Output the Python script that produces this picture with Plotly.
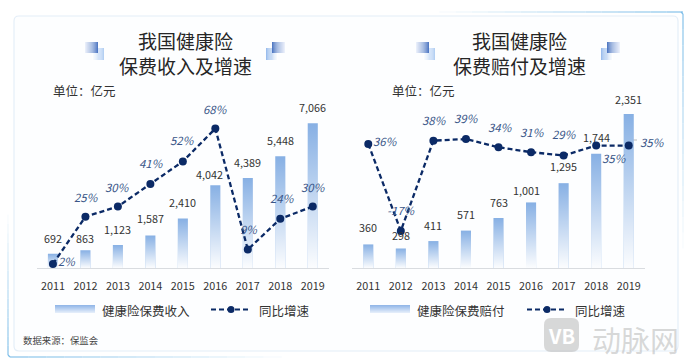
import plotly.graph_objects as go

W, H = 693, 362
FONT = "Noto Sans CJK SC"

years = list(range(2011, 2020))
premium = [692, 863, 1123, 1587, 2410, 4042, 4389, 5448, 7066]
premium_growth = [2, 25, 30, 41, 52, 68, 9, 24, 30]
claims = [360, 298, 411, 571, 763, 1001, 1295, 1744, 2351]
claims_growth = [36, -17, 38, 39, 34, 31, 29, 35, 35]

premium_title = "我国健康险<br>保费收入及增速"
claims_title = "我国健康险<br>保费赔付及增速"
unit_label = "单位\uff1a亿元"
premium_legend = "健康险保费收入"
claims_legend = "健康险保费赔付"
growth_legend = "同比增速"
source_label = "数据来源\uff1a保监会"

# label offsets in px (dx, dy up) from the mark
prem_val_off = [(0, 16), (0, 12), (0, 16), (0, 17), (0, 17), (-6, 11), (0, 16), (0, 16), (0, 16)]
prem_pct_off = [(14, 3), (1, 20), (0, 20), (1, 21), (0, 21), (0, 20), (1, 21), (2, 21), (1, 20)]
clm_val_off = [(0, 17), (0, 13), (0, 16), (0, 17), (0, 16), (-5, 12), (0, 17), (0, 17), (0, 15)]
clm_pct_off = [(17, 3), (1, 21), (1, 21), (1, 21), (2, 20), (1, 20), (1, 21), (18, -12), (24, 4)]

PLOT_TOP, PLOT_BOTTOM = 100, 268
dom = [(H - PLOT_BOTTOM) / H, (H - PLOT_TOP) / H]
BAR_W = 0.31

shapes, anns = [], []


def X(p):
    return p / W


def Y(p):
    return 1 - p / H


def rect(x0, y0, x1, y1, fill, **kw):
    shapes.append(dict(type="rect", xref="paper", yref="paper", x0=X(x0), x1=X(x1), y0=Y(y0), y1=Y(y1),
                       fillcolor=fill, line=dict(width=0), layer=kw.get("layer", "below")))


def mix(a, b, t):
    return "#%02x%02x%02x" % tuple(round(a[i] + (b[i] - a[i]) * t) for i in range(3))


def grad(x0, y0, x1, y1, c0, c1, horizontal=True, n=14):
    for i in range(n):
        t = i / max(n - 1, 1)
        if horizontal:
            rect(x0 + (x1 - x0) * i / n, y0, x0 + (x1 - x0) * (i + 1) / n, y1, mix(c0, c1, t))
        else:
            rect(x0, y0 + (y1 - y0) * i / n, x1, y0 + (y1 - y0) * (i + 1) / n, mix(c0, c1, t))


def text(x, y, s, size, color="#333333", anchor="center", **kw):
    anns.append(dict(xref="paper", yref="paper", x=X(x), y=Y(y), text=s, showarrow=False, xanchor=anchor,
                     yanchor="middle", font=dict(family=FONT, size=size, color=color), **kw))


def line(x0, y0, x1, y1, color, width=1, dash=None):
    shapes.append(dict(type="line", xref="paper", yref="paper", x0=X(x0), x1=X(x1), y0=Y(y0), y1=Y(y1),
                       line=dict(color=color, width=width, dash=dash), layer="below"))


WHITE = (255, 255, 255)
FRAME = (125, 190, 232)
# outer frame, fading away from two corners
N = 16
for i in range(N):
    c = mix(FRAME, WHITE, (i + 1) / N)
    line(683 - 260 * i / N, 12, 683 - 260 * (i + 1) / N, 12, c, 1.2)
    line(683, 14 + 250 * i / N, 683, 14 + 250 * (i + 1) / N, c, 1.2)
    line(10 + 290 * i / N, 357, 10 + 290 * (i + 1) / N, 357, c, 1.2)
    line(8, 355 - 150 * i / N, 8, 355 - 150 * (i + 1) / N, c, 1.2)
line(681, 12, 683, 14, mix(FRAME, WHITE, 0), 1.2)
line(8, 355, 10, 357, mix(FRAME, WHITE, 0), 1.2)

# inner card
r = 5
x0, y0, x1, y1 = X(14), Y(16), X(678), Y(351)
rx, ry = r / W, r / H
shapes.append(dict(type="path", xref="paper", yref="paper", layer="below", fillcolor="#fdfeff",
                   line=dict(color="#e4eef8", width=1.2),
                   path=f"M{x0 + rx},{y0} L{x1 - rx},{y0} Q{x1},{y0} {x1},{y0 - ry} L{x1},{y1 + ry} Q{x1},{y1} {x1 - rx},{y1} "
                        f"L{x0 + rx},{y1} Q{x0},{y1} {x0},{y1 + ry} L{x0},{y0 - ry} Q{x0},{y0} {x0 + rx},{y0} Z"))

DARK = (72, 114, 192)
PALE = (170, 202, 242)
MID = (140, 180, 234)


def deco_left(x):
    grad(x + 7, 48, x + 19, 60, WHITE, PALE)
    grad(x, 42, x + 13, 53, (232, 238, 250), DARK)


def deco_right(x):
    grad(x, 48, x + 12, 60, MID, WHITE)
    grad(x + 6, 42, x + 19, 53, DARK, (232, 238, 250))


for xl, xr in ((85, 266), (416, 601)):
    deco_left(xl)
    deco_right(xr)

fig = go.Figure()


def panel(idx, px0, px1, vals, growth, vmax, gmin, gmax, val_off, pct_off, title, cx, unit_x):
    xa = "x" if idx == 0 else "x2"
    ya = "y" if idx == 0 else "y3"
    ya2 = "y2" if idx == 0 else "y4"
    fig.add_trace(go.Bar(x=years, y=vals, width=BAR_W, marker=dict(color="#87b0e4", line=dict(width=0)),
                         xaxis=xa, yaxis=ya, showlegend=False, hoverinfo="skip"))
    for yr, v in zip(years, vals):
        fig.add_trace(go.Scatter(
            x=[yr - BAR_W / 2, yr + BAR_W / 2, yr + BAR_W / 2, yr - BAR_W / 2, yr - BAR_W / 2],
            y=[0, 0, v, v, 0], mode="none", fill="toself", xaxis=xa, yaxis=ya, showlegend=False, hoverinfo="skip",
            fillgradient=dict(type="vertical", start=0, stop=v,
                              colorscale=[[0, "rgba(255,255,255,0.97)"], [1, "rgba(255,255,255,0)"]])))
    fig.add_trace(go.Scatter(x=years, y=growth, mode="lines+markers", xaxis=xa, yaxis=ya2, showlegend=False,
                             hoverinfo="skip", line=dict(color="#0b2a66", width=2.3, dash="5px,3px"),
                             marker=dict(color="#0b2a66", size=8)))
    for yr, v, (dx, dy) in zip(years, vals, val_off):
        anns.append(dict(xref=xa, yref=ya, x=yr, y=v, text=f"{v:,}", showarrow=False, xshift=dx, yshift=dy,
                         font=dict(family=FONT, size=10.8, color="#333333")))
    for yr, g, (dx, dy) in zip(years, growth, pct_off):
        anns.append(dict(xref=xa, yref=ya2, x=yr, y=g, text=f"<i>{g}%</i>", showarrow=False, xshift=dx, yshift=dy,
                         font=dict(family=FONT, size=11.4, color="#3a5688")))
    text(cx, 53, title, 19, "#262626")
    text(unit_x, 90, unit_label, 12.5, "#333333", "left")
    common = dict(domain=[X(px0), X(px1)], range=[2010.5, 2019.5], tickmode="array", tickvals=years,
                  ticktext=[str(y) for y in years], showgrid=False, zeroline=False, showline=True,
                  linecolor="#d9dce0", linewidth=1, ticks="outside", ticklen=8, tickcolor="rgba(0,0,0,0)",
                  tickfont=dict(family=FONT, size=10.8, color="#333333"))
    yc = dict(domain=dom, visible=False, showgrid=False, zeroline=False)
    return common, dict(range=[0, vmax], **yc), dict(range=[gmin, gmax], **yc)


xa1, ya1, ya2 = panel(0, 36.7, 329, premium, premium_growth, 168 / 0.0205, 0, 168 / 2.05,
                      prem_val_off, prem_pct_off, premium_title, 185, 51)
xa2, ya3, ya4 = panel(1, 352, 645, claims, claims_growth, 168 / 0.0655, -65 / 1.64, 103 / 1.64,
                      clm_val_off, clm_pct_off, claims_title, 519, 390)

# leader line for the last label
line(631, 140, 637, 140, "#bbbbbb", 1)


def legend(x_sw, x_txt, label, x_line, x_ltxt):
    grad(x_sw, 305, x_sw + 40, 313, (148, 184, 232), (226, 236, 250), horizontal=False, n=8)
    text(x_txt, 310, label, 12.5, "#333333", "left")
    line(x_line, 309.5, x_line + 40, 309.5, "#0b2a66", 2, "5px,3px")
    xc = x_line + 20
    shapes.append(dict(type="circle", xref="paper", yref="paper", x0=X(xc - 3.5), x1=X(xc + 3.5), y0=Y(313), y1=Y(306),
                       fillcolor="#0b2a66", line=dict(width=0)))
    text(x_ltxt, 310, growth_legend, 12.5, "#333333", "left")


legend(55, 100, premium_legend, 211, 257)
legend(370, 415, claims_legend, 527, 573)
text(21, 340, source_label, 9.4, "#444444", "left")

# watermark
xa0, xb0, ya0, yb0 = X(544), X(579), Y(318), Y(352)
rx, ry = 7 / W, 7 / H
shapes.append(dict(type="path", xref="paper", yref="paper", layer="above", fillcolor="rgba(190,190,190,0.6)",
                   line=dict(width=0),
                   path=f"M{xa0 + rx},{ya0} L{xb0 - rx},{ya0} Q{xb0},{ya0} {xb0},{ya0 - ry} L{xb0},{yb0 + ry} Q{xb0},{yb0} {xb0 - rx},{yb0} "
                        f"L{xa0 + rx},{yb0} Q{xa0},{yb0} {xa0},{yb0 + ry} L{xa0},{ya0 - ry} Q{xa0},{ya0} {xa0 + rx},{ya0} Z"))
text(561.5, 335, "<b>VB</b>", 20, "#ffffff")
text(635.5, 339, "动脉网", 29, "rgba(190,190,190,0.6)")

fig.update_layout(width=W, height=H, margin=dict(l=0, r=0, t=0, b=0), paper_bgcolor="white", plot_bgcolor="rgba(0,0,0,0)",
                  barmode="overlay", shapes=shapes, annotations=anns, showlegend=False,
                  xaxis=dict(anchor="y", **xa1), yaxis=dict(anchor="x", **ya1),
                  yaxis2=dict(anchor="x", overlaying="y", **ya2),
                  xaxis2=dict(anchor="y3", **xa2), yaxis3=dict(anchor="x2", **ya3),
                  yaxis4=dict(anchor="x2", overlaying="y3", **ya4))
fig.write_html("out.html", config=dict(displayModeBar=False),
               post_script="document.body.style.margin='0';document.body.style.overflow='hidden';")
